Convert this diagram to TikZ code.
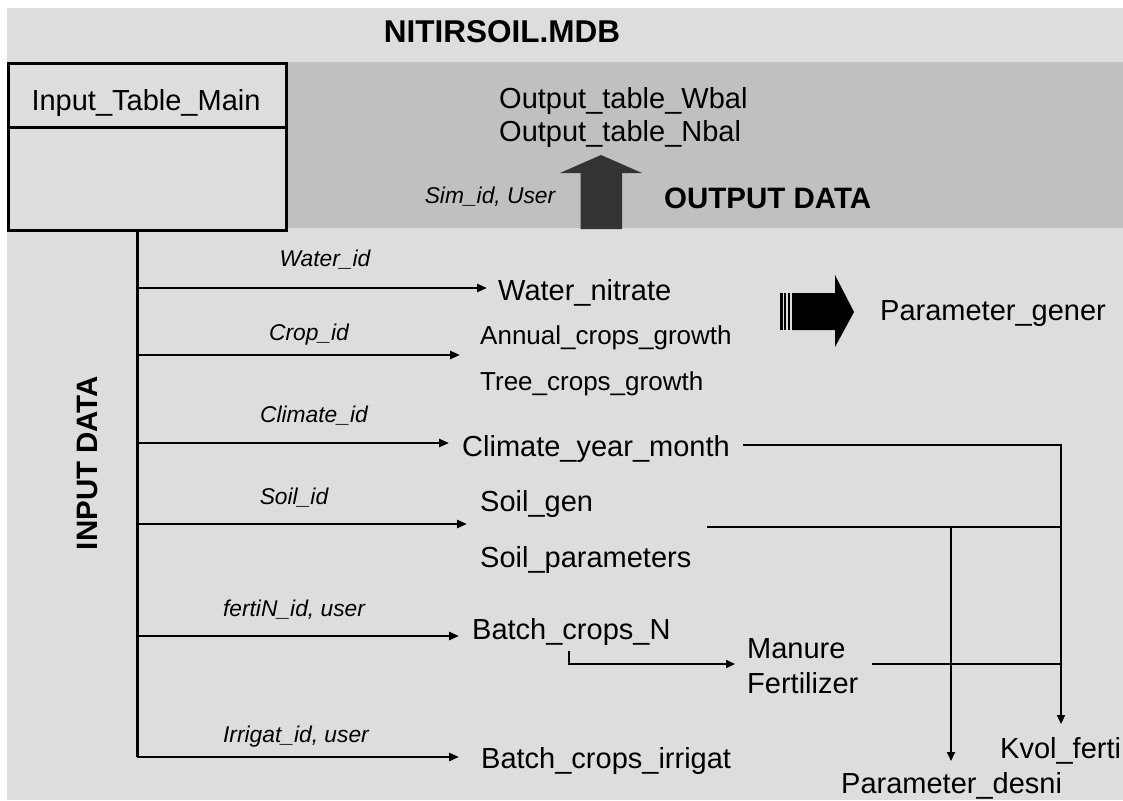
\documentclass[tikz,border=0pt]{standalone}
\usepackage{fontspec}
\setmainfont{Liberation Sans}
\usetikzlibrary{arrows.meta}
\definecolor{bgl}{HTML}{DDDDDD}
\definecolor{bgd}{HTML}{C0C0C0}
\definecolor{arrdark}{HTML}{333333}
\tikzset{
  lbl/.style={font=\fontsize{29}{33}\selectfont, inner sep=0pt, anchor=base west},
  lblsm/.style={font=\fontsize{26}{30}\selectfont, inner sep=0pt, anchor=base west},
  idlbl/.style={font=\fontsize{22.8}{26}\selectfont\itshape, inner sep=0pt, anchor=base},
  boldlbl/.style={font=\fontsize{29.5}{33}\selectfont\bfseries, inner sep=0pt},
  tablebox/.style={draw=black, line width=2.7pt, fill=bgl, inner sep=0pt, anchor=north west},
  trunk/.style={line width=3pt},
  branch/.style={line width=2.4pt, -{Triangle[length=10pt,width=8pt]}},
  link/.style={line width=1.9pt},
  linkarr/.style={line width=1.9pt, -{Triangle[length=9pt,width=8pt]}},
}
\begin{document}
\begin{tikzpicture}[x=1pt,y=-1pt]
\useasboundingbox (0,0) rectangle (1123,800);
\fill[white] (0,0) rectangle (1123,800);
\fill[bgl] (7,8) rectangle (1123,800);
\fill[bgd] (285,62) rectangle (1123,228);

% title
\node[boldlbl, font=\fontsize{31.5}{35}\selectfont\bfseries, anchor=base] (title) at (502,43) {NITIRSOIL.MDB};

% main table box
\node[tablebox, minimum width=278pt, minimum height=64pt] (mainhead) at (7,62) {};
\node[tablebox, minimum width=278pt, minimum height=103pt] (mainbody) at (7,126) {};
\node[lbl, anchor=base] (mainlabel) at (146,110) {Input\_Table\_Main};

% output area
\node[lbl] (outw) at (499,108) {Output\_table\_Wbal};
\node[lbl] (outn) at (499,141) {Output\_table\_Nbal};
\node[idlbl] (simid) at (490,203) {Sim\_id, User};
\node[boldlbl, anchor=base west] (outdata) at (664,208) {OUTPUT DATA};
\fill[arrdark] (580.5,229) -- (580.5,173) -- (560,173) -- (601,155) -- (642,173) -- (622,173) -- (622,229) -- cycle;

% input data label
\node[boldlbl, rotate=90] (indata) at (87.5,463) {INPUT DATA};

% striped arrow to Parameter_gener
\fill[black] (780,293) rectangle (782.5,330);
\fill[black] (784,293) rectangle (786.3,330);
\fill[black] (788,293) rectangle (790.3,330);
\fill[black] (792,293) -- (835,293) -- (835,275) -- (854,312) -- (835,347) -- (835,330) -- (792,330) -- cycle;
\node[lbl] (pgener) at (880,320) {Parameter\_gener};

% targets
\node[lbl] (water) at (498,300) {Water\_nitrate};
\node[lblsm] (annual) at (480,344) {Annual\_crops\_growth};
\node[lblsm] (tree) at (480,390) {Tree\_crops\_growth};
\node[lbl] (climate) at (462,456) {Climate\_year\_month};
\node[lbl] (soilgen) at (480,511) {Soil\_gen};
\node[lbl] (soilpar) at (480,567) {Soil\_parameters};
\node[lbl] (batchn) at (472,639) {Batch\_crops\_N};
\node[lbl] (manure) at (747,658) {Manure};
\node[lbl] (fert) at (747,693) {Fertilizer};
\node[lbl] (batchirr) at (481,768) {Batch\_crops\_irrigat};
\node[lbl] (kvol) at (1000,758) {Kvol\_ferti};
\node[lbl] (pdesni) at (841,793) {Parameter\_desni};

% id labels
\node[idlbl] (wid) at (325,266) {Water\_id};
\node[idlbl] (cid) at (309,340) {Crop\_id};
\node[idlbl] (clid) at (314,422) {Climate\_id};
\node[idlbl] (sid) at (294,504) {Soil\_id};
\node[idlbl] (fid) at (294,616) {fertiN\_id, user};
\node[idlbl] (iid) at (296,742) {Irrigat\_id, user};

% trunk and branches
\coordinate (trunkend) at (137,757);
\draw[trunk] (mainbody.south -| trunkend) -- (trunkend);
\coordinate (bW) at (137,288); \coordinate (tW) at (487,288);
\coordinate (bC) at (137,355); \coordinate (tC) at (460,355);
\coordinate (bCl) at (137,443); \coordinate (tCl) at (449,443);
\coordinate (bS) at (137,524); \coordinate (tS) at (467,524);
\coordinate (bF) at (137,636); \coordinate (tF) at (459,636);
\coordinate (tI) at (459,757);
\draw[branch] (bW) -- (tW);
\draw[branch] (bC) -- (tC);
\draw[branch] (bCl) -- (tCl);
\draw[branch] (bS) -- (tS);
\draw[branch] (bF) -- (tF);
\draw[branch] (trunkend) -- (tI);

% right-hand links
\coordinate (clS) at (743,445);
\coordinate (colK) at (1061,445);
\coordinate (kvTip) at (1061,724);
\coordinate (soS) at (707,527);
\coordinate (soE) at (1061,527);
\coordinate (colP) at (951,527);
\coordinate (pdTip) at (951,761);
\coordinate (feS) at (872,664);
\coordinate (feE) at (1061,664);
\coordinate (elS) at (569,651);
\coordinate (elC) at (569,664);
\coordinate (elT) at (735,664);
\draw[linkarr] (clS) -- (colK) -- (kvTip);
\draw[link] (soS) -- (soE);
\draw[linkarr] (colP) -- (pdTip);
\draw[link] (feS) -- (feE);
\draw[linkarr, line width=1.7pt] (elS) -- (elC) -- (elT);
\end{tikzpicture}
\end{document}
